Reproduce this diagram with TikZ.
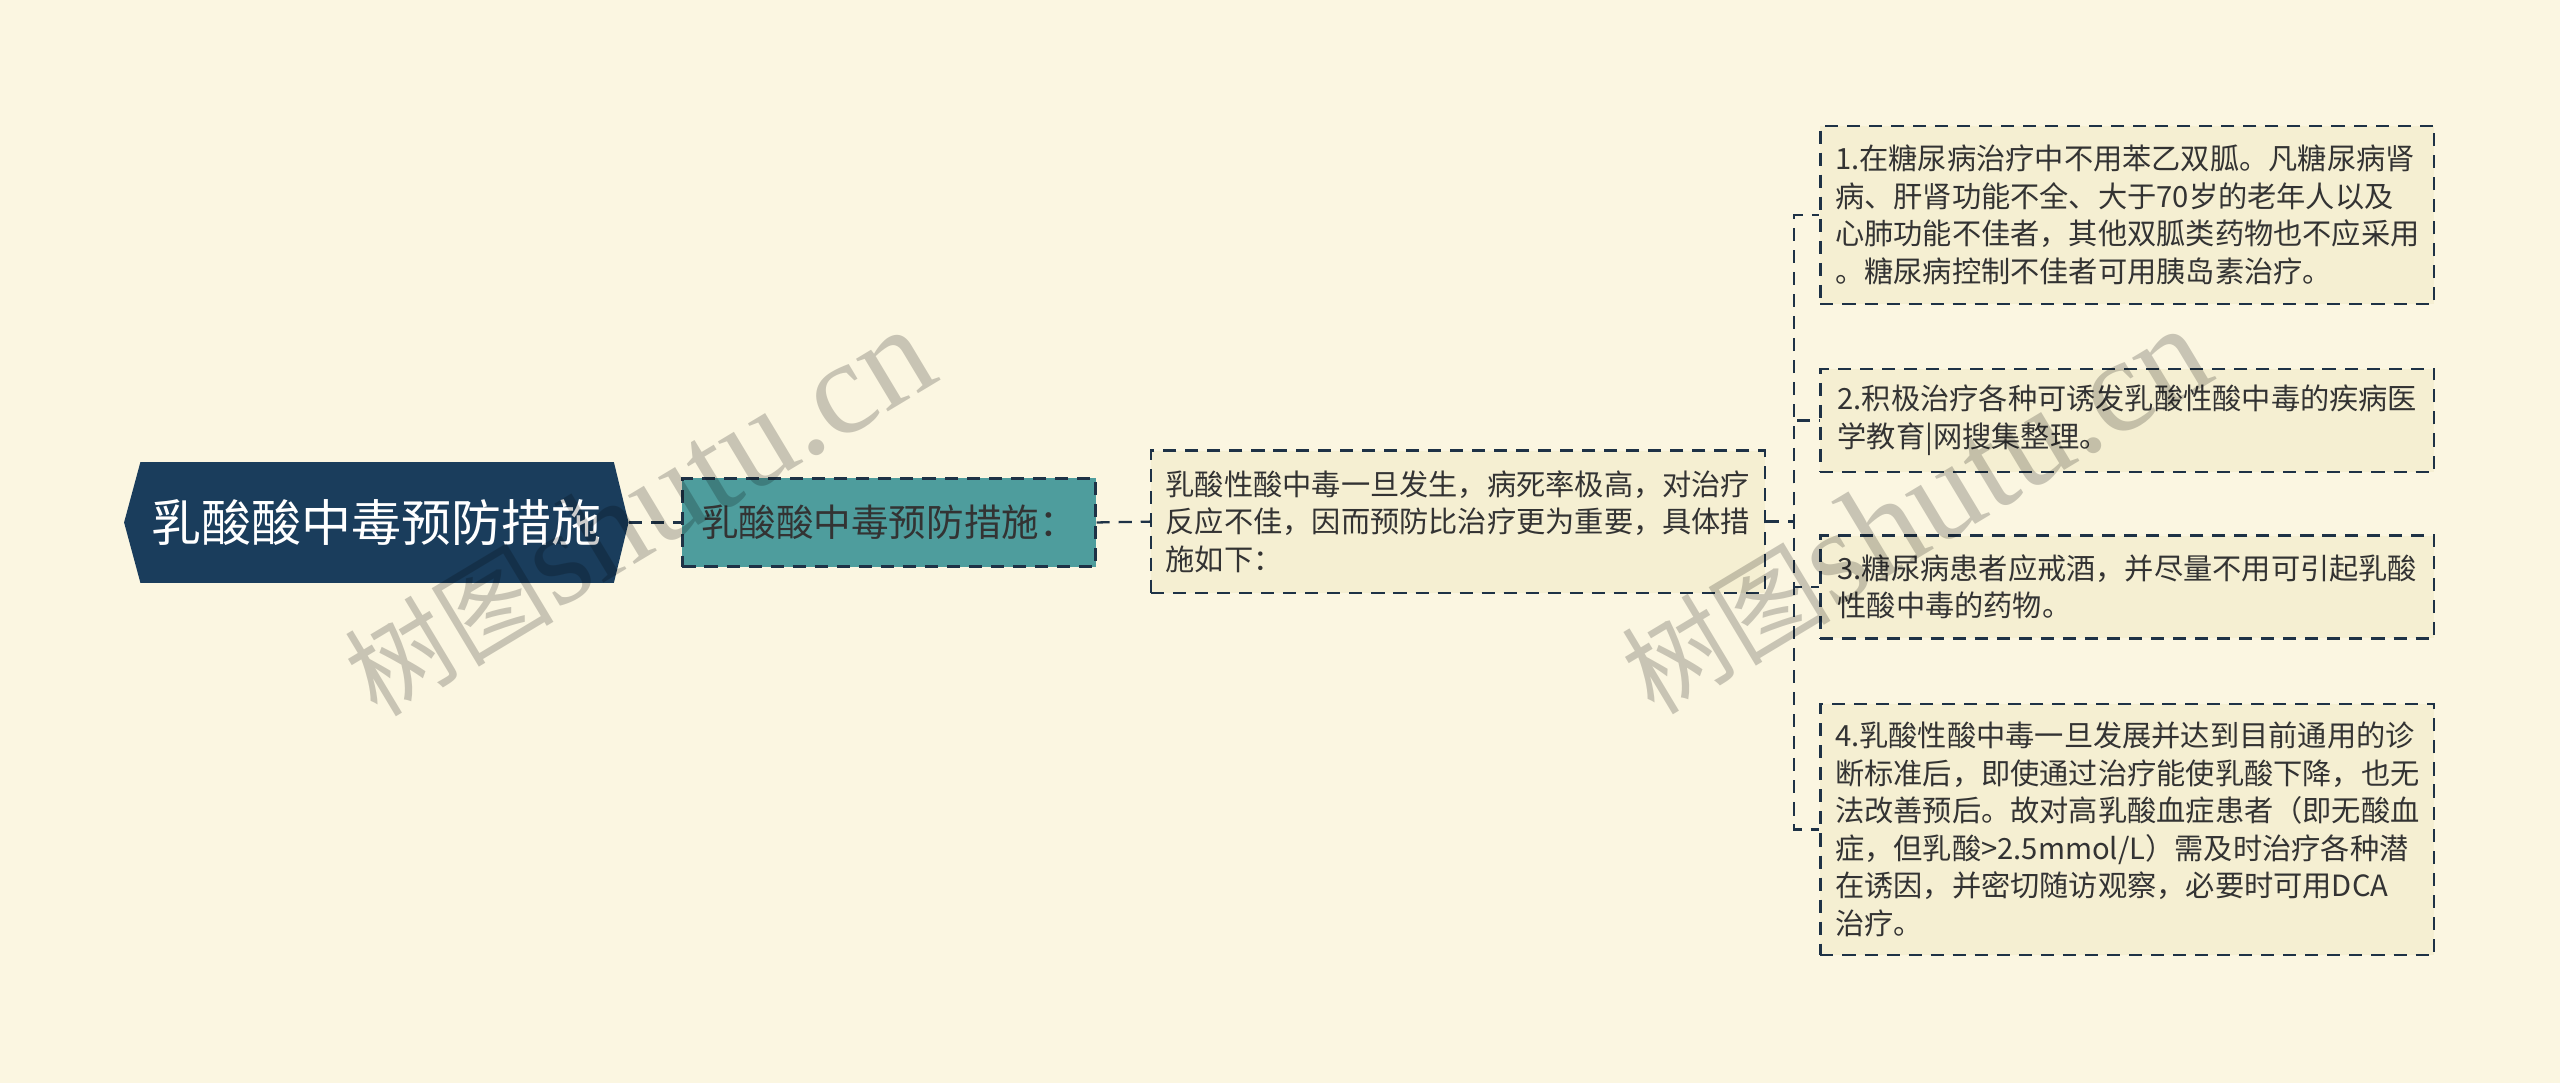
\documentclass[tikz,border=0pt]{standalone}
\usepackage{fontspec}
\setmainfont{Noto Sans CJK SC}
\newfontfamily\wmlatin{Liberation Serif}
\definecolor{bgcol}{HTML}{FBF6E1}
\definecolor{rootcol}{HTML}{1A3D5C}
\definecolor{tealcol}{HTML}{4E9D9D}
\definecolor{boxcol}{HTML}{F5EFD2}
\definecolor{linecol}{HTML}{1E3246}
\definecolor{txtcol}{HTML}{333333}
\tikzset{
  box/.style={draw=linecol, line width=1.4pt, dash pattern=on 8pt off 5.5pt,
    fill=boxcol, text=txtcol, inner sep=0pt, align=left,
    font=\fontsize{17.9}{23}\selectfont},
  link/.style={draw=linecol, line width=1.4pt, dash pattern=on 8pt off 5.5pt},
  wmark/.style={text=black, opacity=0.2, rotate=31, inner sep=0pt}
}
\begin{document}
\begin{tikzpicture}[x=1pt,y=-1pt]
\useasboundingbox (0,0) rectangle (1568,663.3);
\fill[bgcol] (0,0) rectangle (1568,663.3);
\fill[rootcol] (76,320) -- (86,283) -- (376,283) -- (385,320) -- (376,357) -- (86,357) -- cycle;
\node[text=white, minimum width=309pt, minimum height=74pt, inner sep=0pt,
  font=\fontsize{30.6}{36}\selectfont] (root) at (230.5,320) {乳酸酸中毒预防措施};
\node[box, fill=tealcol, minimum width=253pt, minimum height=54pt,
  font=\fontsize{23}{28}\selectfont] (sub) at (544.5,320) {乳酸酸中毒预防措施：};
\node[box, minimum width=376pt, minimum height=87pt] (intro) at (893,319.5)
  {乳酸性酸中毒一旦发生，病死率极高，对治疗\\反应不佳，因而预防比治疗更为重要，具体措\\施如下：};
\node[box, minimum width=376pt, minimum height=109pt] (m1) at (1303,131.5)
  {1.在糖尿病治疗中不用苯乙双胍。凡糖尿病肾\\病、肝肾功能不全、大于70岁的老年人以及\\心肺功能不佳者，其他双胍类药物也不应采用\\。糖尿病控制不佳者可用胰岛素治疗。};
\node[box, minimum width=376pt, minimum height=63pt] (m2) at (1303,257.5)
  {2.积极治疗各种可诱发乳酸性酸中毒的疾病医\\学教育|网搜集整理。};
\node[box, minimum width=376pt, minimum height=63pt] (m3) at (1303,359.5)
  {3.糖尿病患者应戒酒，并尽量不用可引起乳酸\\性酸中毒的药物。};
\node[box, minimum width=376pt, minimum height=154pt] (m4) at (1303,508)
  {4.乳酸性酸中毒一旦发展并达到目前通用的诊\\断标准后，即使通过治疗能使乳酸下降，也无\\法改善预后。故对高乳酸血症患者（即无酸血\\症，但乳酸>2.5mmol/L）需及时治疗各种潜\\在诱因，并密切随访观察，必要时可用DCA\\治疗。};
\draw[link] (root.east) -- (sub.west);
\draw[link] (sub.east) -- (intro.west);
\draw[link] (intro.east) -- ++(17,0) |- (m1.west);
\draw[link] (intro.east) -- ++(17,0) |- (m2.west);
\draw[link] (intro.east) -- ++(17,0) |- (m3.west);
\draw[link] (intro.east) -- ++(17,0) |- (m4.west);
\node[wmark] (wm1) at (391,314) {\fontsize{64}{70}\selectfont 树图{\wmlatin\fontsize{82}{90}\selectfont shutu.cn}};
\node[wmark] (wm2) at (1173,313) {\fontsize{64}{70}\selectfont 树图{\wmlatin\fontsize{82}{90}\selectfont shutu.cn}};
\end{tikzpicture}
\end{document}
